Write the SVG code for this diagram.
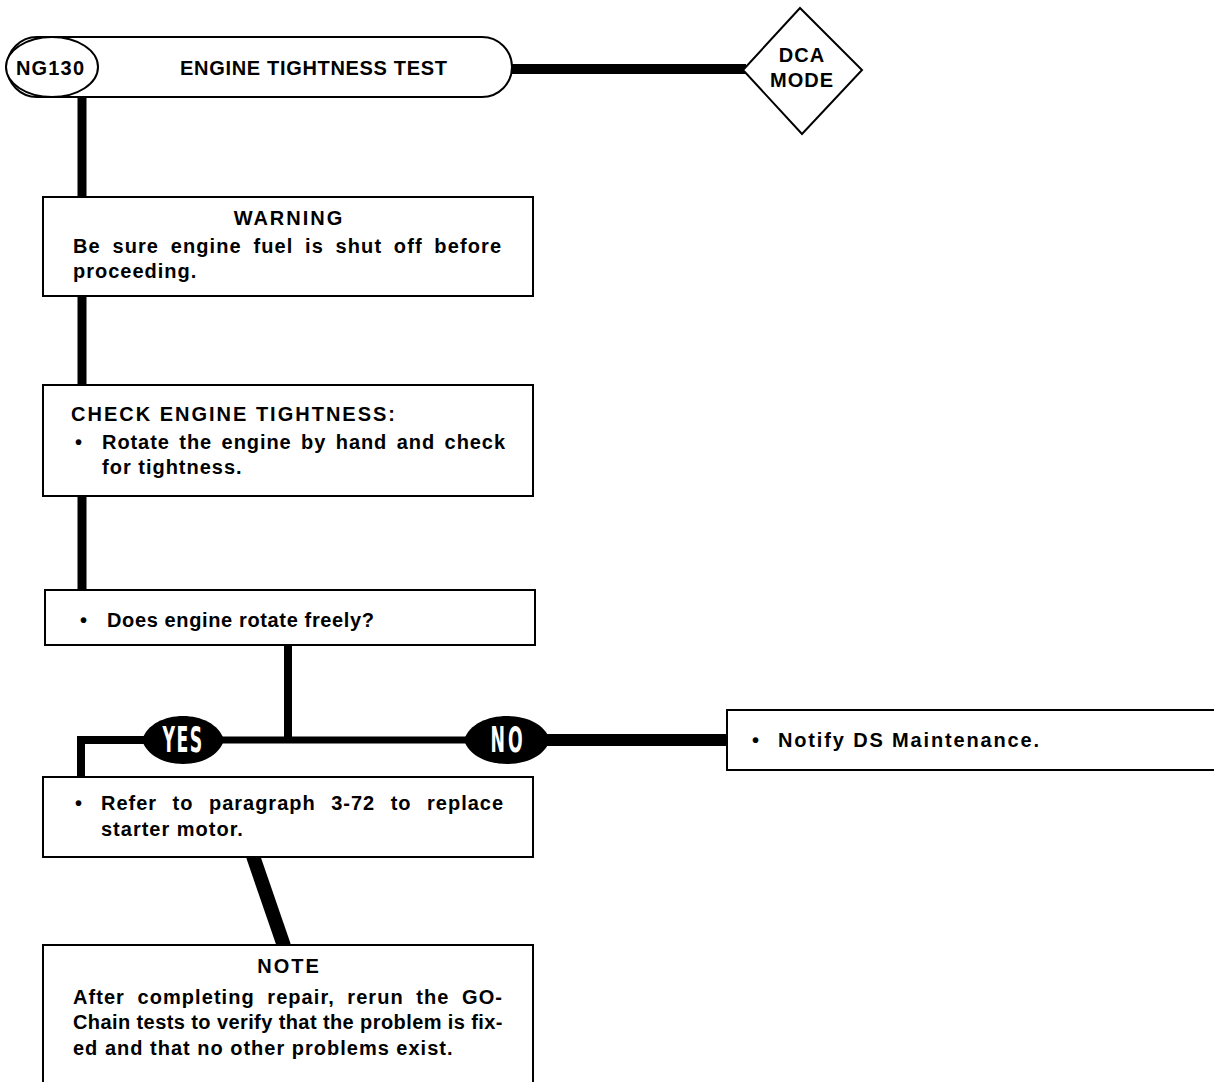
<svg xmlns="http://www.w3.org/2000/svg" width="1214" height="1082" viewBox="0 0 1214 1082">
<style>
.box{fill:#fff;stroke:#000;stroke-width:2}
.t{font-family:"Liberation Sans",Arial,sans-serif;font-weight:bold;font-size:20px;fill:#000;letter-spacing:1px}
.h{letter-spacing:2px}
.c{text-anchor:middle}
.con{stroke:#000;fill:none;stroke-linecap:butt}
.oval{fill:#000}
.lbl{font-family:"DejaVu Sans",sans-serif;font-weight:bold;font-size:24px;fill:#fff;text-anchor:middle}
</style>
<rect width="1214" height="1082" fill="#fff"/>
<g id="connectors">
<line class="con" x1="512" y1="69" x2="746" y2="69" stroke-width="10"/>
<line class="con" x1="82" y1="94" x2="82" y2="198" stroke-width="9"/>
<line class="con" x1="82" y1="296" x2="82" y2="386" stroke-width="9"/>
<line class="con" x1="82" y1="496" x2="82" y2="591" stroke-width="9"/>
<line class="con" x1="288" y1="645" x2="288" y2="742" stroke-width="8"/>
<polyline class="con" points="81,778 81,740 145,740" stroke-width="8"/>
<line class="con" x1="215" y1="740" x2="470" y2="740" stroke-width="7"/>
<line class="con" x1="540" y1="740" x2="728" y2="740" stroke-width="12"/>
<line class="con" x1="253" y1="856" x2="284" y2="946" stroke-width="14"/>
</g>
<g id="node-title">
<rect class="box" x="7" y="37" width="505" height="60" rx="30" ry="30"/>
<ellipse class="box" cx="52" cy="67" rx="46" ry="30"/>
<text class="t" x="16" y="75" textLength="69">NG130</text>
<text class="t" x="180" y="75" textLength="268">ENGINE TIGHTNESS TEST</text>
</g>
<g id="node-dca">
<polygon class="box" points="800,8 862,70 802,134 743,70"/>
<text class="t c" x="802" y="62" style="letter-spacing:1px">DCA</text>
<text class="t c" x="802" y="87" style="letter-spacing:1px">MODE</text>
</g>
<g id="node-warning">
<rect class="box" x="43" y="197" width="490" height="99"/>
<text class="t h c" x="289" y="225">WARNING</text>
<text class="t" x="73" y="253" textLength="429" lengthAdjust="spacing" style="word-spacing:5px">Be sure engine fuel is shut off before</text>
<text class="t" x="73" y="278">proceeding.</text>
</g>
<g id="node-check">
<rect class="box" x="43" y="385" width="490" height="111"/>
<text class="t" x="71" y="421" textLength="325">CHECK ENGINE TIGHTNESS:</text>
<text class="t" x="75" y="449">•</text>
<text class="t" x="102" y="449" textLength="404" lengthAdjust="spacing" style="word-spacing:3px">Rotate the engine by hand and check</text>
<text class="t" x="102" y="474">for tightness.</text>
</g>
<g id="node-question">
<rect class="box" x="45" y="590" width="490" height="55"/>
<text class="t" x="80" y="627">•</text>
<text class="t" x="107" y="627" textLength="268">Does engine rotate freely?</text>
</g>
<g id="label-yes">
<path class="oval" d="M142,740 C152,708 214,708 224,740 C214,772 152,772 142,740 Z"/>
<text class="lbl" transform="translate(183,752) scale(0.72,1.5)" style="letter-spacing:2px">YES</text>
</g>
<g id="label-no">
<path class="oval" d="M464,740 C474,708 540,708 550,740 C540,772 474,772 464,740 Z"/>
<text class="lbl" transform="translate(508,752) scale(0.72,1.5)" style="letter-spacing:4px">NO</text>
</g>
<g id="node-notify">
<rect class="box" x="727" y="710" width="497" height="60"/>
<text class="t" x="752" y="747">•</text>
<text class="t" x="778" y="747" textLength="262">Notify DS Maintenance.</text>
</g>
<g id="node-refer">
<rect class="box" x="43" y="777" width="490" height="80"/>
<text class="t" x="75" y="810">•</text>
<text class="t" x="101" y="810" textLength="403" lengthAdjust="spacing" style="word-spacing:9px">Refer to paragraph 3-72 to replace</text>
<text class="t" x="101" y="836">starter motor.</text>
</g>
<g id="node-note">
<rect class="box" x="43" y="945" width="490" height="150"/>
<text class="t h c" x="289" y="973">NOTE</text>
<text class="t" x="73" y="1004" textLength="430" lengthAdjust="spacing" style="word-spacing:6px">After completing repair, rerun the GO-</text>
<text class="t" x="73" y="1029" textLength="430" lengthAdjust="spacing" style="letter-spacing:0.5px">Chain tests to verify that the problem is fix-</text>
<text class="t" x="73" y="1055">ed and that no other problems exist.</text>
</g>
</svg>
